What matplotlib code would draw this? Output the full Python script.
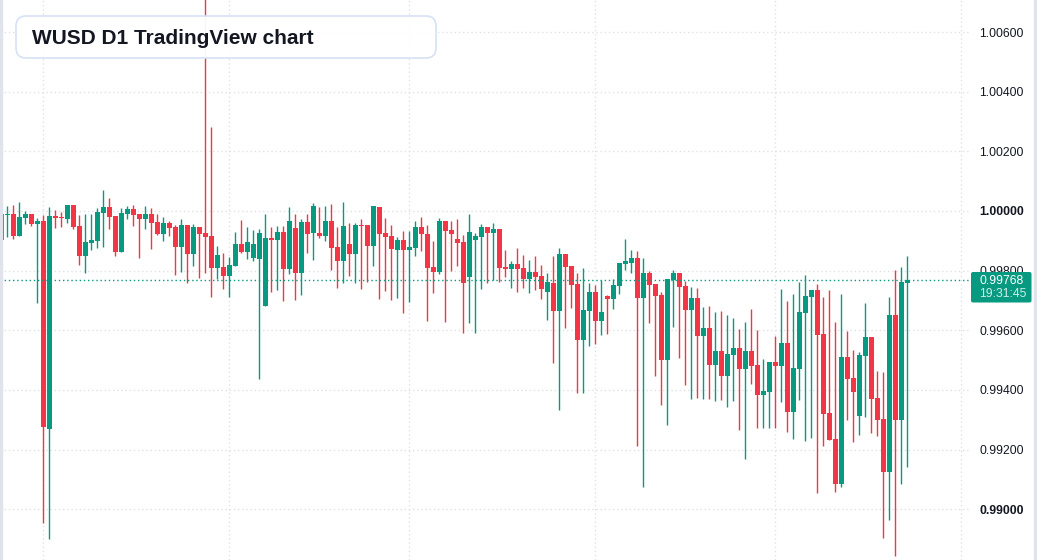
import numpy as np
import matplotlib.pyplot as plt
from matplotlib.patches import FancyBboxPatch, Rectangle
from matplotlib.transforms import IdentityTransform

# daily candles (index 0 = oldest)
opens = [0.99903, 0.99988, 0.99990, 0.99917, 0.99978, 0.99990, 0.99958, 0.99966, 0.99270, 0.99983,
         0.99980, 0.99973, 1.00020, 0.99950, 0.99850, 0.99893, 0.99899, 0.99994, 1.00013, 0.99983,
         0.99864, 0.99991, 1.00007, 0.99990, 0.99974, 0.99990, 0.99963, 0.99924, 0.99960, 0.99946,
         0.99880, 0.99953, 0.99857, 0.99946, 0.99926, 0.99916, 0.99810, 0.99812, 0.99783, 0.99817,
         0.99889, 0.99864, 0.99844, 0.99840, 0.99683, 0.99909, 0.99904, 0.99930, 0.99807, 0.99943,
         0.99793, 0.99963, 0.99927, 0.99926, 0.99917, 0.99966, 0.99879, 0.99833, 0.99889, 0.99857,
         0.99953, 0.99953, 0.99884, 1.00013, 0.99926, 0.99916, 0.99870, 0.99903, 0.99870, 0.99877,
         0.99946, 0.99923, 0.99812, 0.99797, 0.99966, 0.99936, 0.99906, 0.99896, 0.99780, 0.99904,
         0.99914, 0.99946, 0.99927, 0.99940, 0.99812, 0.99807, 0.99822, 0.99809, 0.99773, 0.99795,
         0.99782, 0.99730, 0.99759, 0.99666, 0.99856, 0.99816, 0.99755, 0.99569, 0.99666, 0.99728,
         0.99632, 0.99715, 0.99706, 0.99750, 0.99823, 0.99827, 0.99842, 0.99709, 0.99792, 0.99755,
         0.99718, 0.99502, 0.99769, 0.99792, 0.99749, 0.99669, 0.99708, 0.99582, 0.99608, 0.99485,
         0.99531, 0.99448, 0.99518, 0.99541, 0.99471, 0.99531, 0.99484, 0.99384, 0.99394, 0.99494,
         0.99481, 0.99557, 0.99327, 0.99471, 0.99659, 0.99713, 0.99735, 0.99588, 0.99323, 0.99236,
         0.99086, 0.99511, 0.99440, 0.99314, 0.99515, 0.99578, 0.99373, 0.99303, 0.99126, 0.99651,
         0.99300, 0.99760]
highs = [0.99992, 1.00017, 1.00020, 1.00030, 1.00000, 0.99991, 0.99977, 0.99987, 1.00013, 1.00003,
         0.99997, 1.00021, 1.00021, 0.99987, 0.99990, 0.99990, 1.00010, 1.00070, 1.00044, 0.99984,
         1.00010, 1.00017, 1.00020, 0.99991, 1.00017, 1.00010, 0.99990, 0.99980, 0.99966, 0.99953,
         0.99973, 0.99954, 0.99956, 0.99947, 1.00720, 1.00282, 0.99883, 0.99859, 0.99846, 0.99930,
         0.99970, 0.99947, 0.99936, 0.99940, 0.99990, 0.99947, 0.99950, 0.99950, 1.00013, 0.99990,
         0.99973, 0.99990, 1.00027, 1.00013, 1.00017, 1.00023, 0.99947, 1.00030, 0.99960, 0.99960,
         0.99973, 0.99954, 1.00018, 1.00014, 0.99977, 0.99953, 0.99913, 0.99933, 0.99933, 0.99966,
         0.99980, 0.99953, 0.99899, 0.99977, 0.99967, 0.99966, 0.99973, 0.99920, 0.99990, 0.99926,
         0.99956, 0.99947, 0.99960, 0.99941, 0.99869, 0.99832, 0.99876, 0.99852, 0.99836, 0.99849,
         0.99819, 0.99792, 0.99849, 0.99876, 0.99857, 0.99817, 0.99792, 0.99809, 0.99759, 0.99752,
         0.99769, 0.99718, 0.99772, 0.99827, 0.99906, 0.99869, 0.99866, 0.99842, 0.99799, 0.99756,
         0.99728, 0.99773, 0.99802, 0.99793, 0.99765, 0.99745, 0.99742, 0.99678, 0.99682, 0.99661,
         0.99665, 0.99651, 0.99641, 0.99604, 0.99628, 0.99671, 0.99601, 0.99504, 0.99495, 0.99581,
         0.99739, 0.99698, 0.99722, 0.99762, 0.99785, 0.99736, 0.99755, 0.99712, 0.99736, 0.99628,
         0.99722, 0.99598, 0.99534, 0.99527, 0.99692, 0.99579, 0.99464, 0.99460, 0.99712, 0.99802,
         0.99812, 0.99849]
lows = [0.99901, 0.99914, 0.99906, 0.99916, 0.99958, 0.99951, 0.99693, 0.98953, 0.98899, 0.99944,
        0.99947, 0.99961, 0.99941, 0.99820, 0.99793, 0.99870, 0.99877, 0.99880, 0.99941, 0.99850,
        0.99863, 0.99974, 0.99951, 0.99844, 0.99941, 0.99874, 0.99921, 0.99901, 0.99917, 0.99787,
        0.99797, 0.99760, 0.99817, 0.99776, 0.99793, 0.99713, 0.99773, 0.99740, 0.99713, 0.99816,
        0.99860, 0.99840, 0.99833, 0.99438, 0.99682, 0.99730, 0.99736, 0.99699, 0.99790, 0.99703,
        0.99720, 0.99860, 0.99837, 0.99911, 0.99901, 0.99803, 0.99743, 0.99760, 0.99783, 0.99760,
        0.99740, 0.99763, 0.99817, 0.99706, 0.99733, 0.99703, 0.99709, 0.99659, 0.99696, 0.99850,
        0.99867, 0.99632, 0.99726, 0.99790, 0.99629, 0.99800, 0.99817, 0.99592, 0.99626, 0.99592,
        0.99740, 0.99760, 0.99770, 0.99763, 0.99780, 0.99743, 0.99730, 0.99743, 0.99726, 0.99736,
        0.99706, 0.99636, 0.99492, 0.99334, 0.99609, 0.99676, 0.99391, 0.99391, 0.99549, 0.99555,
        0.99585, 0.99589, 0.99673, 0.99723, 0.99803, 0.99793, 0.99213, 0.99076, 0.99626, 0.99448,
        0.99351, 0.99284, 0.99612, 0.99508, 0.99418, 0.99371, 0.99374, 0.99371, 0.99371, 0.99364,
        0.99367, 0.99344, 0.99364, 0.99267, 0.99170, 0.99421, 0.99274, 0.99274, 0.99274, 0.99274,
        0.99361, 0.99260, 0.99237, 0.99367, 0.99230, 0.99240, 0.99056, 0.99213, 0.99232, 0.99059,
        0.99076, 0.99300, 0.99227, 0.99250, 0.99310, 0.99257, 0.99247, 0.98905, 0.98965, 0.98845,
        0.99086, 0.99143]
closes = [0.99990, 0.99990, 0.99917, 0.99980, 0.99990, 0.99958, 0.99966, 0.99277, 0.99983, 0.99978,
          0.99978, 1.00020, 0.99947, 0.99850, 0.99896, 0.99903, 0.99997, 1.00013, 0.99981, 0.99864,
          0.99993, 1.00007, 0.99988, 0.99974, 0.99990, 0.99961, 0.99924, 0.99960, 0.99944, 0.99880,
          0.99953, 0.99857, 0.99946, 0.99924, 0.99914, 0.99810, 0.99852, 0.99783, 0.99819, 0.99889,
          0.99864, 0.99896, 0.99889, 0.99926, 0.99909, 0.99904, 0.99930, 0.99807, 0.99966, 0.99793,
          0.99963, 0.99924, 1.00017, 0.99917, 0.99966, 0.99877, 0.99833, 0.99950, 0.99857, 0.99953,
          0.99951, 0.99884, 1.00017, 0.99924, 0.99914, 0.99874, 0.99903, 0.99870, 0.99879, 0.99946,
          0.99924, 0.99810, 0.99797, 0.99966, 0.99934, 0.99924, 0.99894, 0.99760, 0.99930, 0.99916,
          0.99946, 0.99927, 0.99940, 0.99810, 0.99807, 0.99822, 0.99807, 0.99773, 0.99795, 0.99780,
          0.99740, 0.99762, 0.99666, 0.99856, 0.99813, 0.99753, 0.99569, 0.99668, 0.99728, 0.99632,
          0.99661, 0.99706, 0.99752, 0.99826, 0.99832, 0.99842, 0.99709, 0.99792, 0.99753, 0.99716,
          0.99502, 0.99772, 0.99792, 0.99746, 0.99669, 0.99708, 0.99582, 0.99608, 0.99485, 0.99531,
          0.99448, 0.99521, 0.99541, 0.99471, 0.99531, 0.99481, 0.99384, 0.99397, 0.99494, 0.99481,
          0.99557, 0.99327, 0.99474, 0.99661, 0.99715, 0.99735, 0.99585, 0.99321, 0.99233, 0.99086,
          0.99511, 0.99438, 0.99394, 0.99517, 0.99578, 0.99371, 0.99300, 0.99126, 0.99651, 0.99300,
          0.99762, 0.99768]

month_starts = [7, 38, 68, 99, 129, 160]   # vertical grid lines
price_ticks = [0.990, 0.992, 0.994, 0.996, 0.998, 1.000, 1.002, 1.004, 1.006]
last_price = 0.99768
last_time = "19:31:45"
title = "WUSD D1 TradingView chart"

UP = "#089981"
DOWN = "#f23645"
TXT = "#131722"
GRID = "#dfe1e6"

plt.rcParams['font.family'] = ['Liberation Sans', 'DejaVu Sans']

W, H = 1037, 560
fig = plt.figure(figsize=(W / 100, H / 100), dpi=100)
ax = fig.add_axes([0, 0, 969 / W, 1])

o = np.array(opens); h = np.array(highs); l = np.array(lows); c = np.array(closes)
idx = np.arange(len(o))
cols = np.where(c >= o, UP, DOWN)

ax.vlines(idx, l, h, colors=cols, linewidth=1.0, zorder=2)
ax.bar(idx, np.maximum(np.abs(c - o), 0.00003), width=0.8, bottom=np.minimum(o, c),
       color=cols, linewidth=0, zorder=3)
ax.axhline(last_price, color=UP, linestyle=(0, (1, 2)), linewidth=1, zorder=4)

ax.set_xlim(-0.22, 161.28)
ax.set_ylim(0.98830, 1.007073)
ax.set_xticks(month_starts)
ax.tick_params(axis='x', length=0, labelbottom=False)
ax.set_yticks(price_ticks)
ax.set_yticklabels([f"{p:.5f}" for p in price_ticks])
ax.yaxis.tick_right()
ax.tick_params(axis='y', length=0, pad=7.5, labelsize=8.8, labelcolor=TXT)
for lab, p in zip(ax.get_yticklabels(), price_ticks):
    if abs(p - round(p, 2)) < 1e-9:
        lab.set_fontweight('bold')
ax.grid(True, color=GRID, linestyle=(0, (1, 2)), linewidth=1)
ax.set_axisbelow(True)
for s in ax.spines.values():
    s.set_visible(False)

# last price badge (drawn over the 0.99800 label, as in the original)
px = IdentityTransform()
fig.add_artist(FancyBboxPatch((971, H - 302.5), 60.5, 30.5, boxstyle="round,pad=0,rounding_size=2",
                              transform=px, facecolor=UP, edgecolor="none", zorder=5))
fig.text(979 / W, 1 - 281.5 / H, f"{last_price:.5f}", color="white", fontsize=8.8,
         va='center', ha='left', zorder=6)
fig.text(979 / W, 1 - 294 / H, last_time, color="#cdeee8", fontsize=8.8,
         va='center', ha='left', zorder=6)

# frame edges
fig.add_artist(Rectangle((0, 0), 2, H, transform=px, color="#e0e3eb", zorder=5))
fig.add_artist(Rectangle((1034, 0), 3, H, transform=px, color="#e0e3eb", zorder=5))

# title box
fig.add_artist(FancyBboxPatch((16, H - 58), 420, 42, boxstyle="round,pad=0,rounding_size=10",
                              transform=px, facecolor=(1, 1, 1, 0.94), edgecolor="#d5e2f5",
                              linewidth=1.2, zorder=5))
fig.text(32 / W, 1 - 38.5 / H, title, fontsize=15, fontweight='bold', color=TXT,
         va='center', ha='left', zorder=6)

fig.savefig("out.png", dpi=100)
